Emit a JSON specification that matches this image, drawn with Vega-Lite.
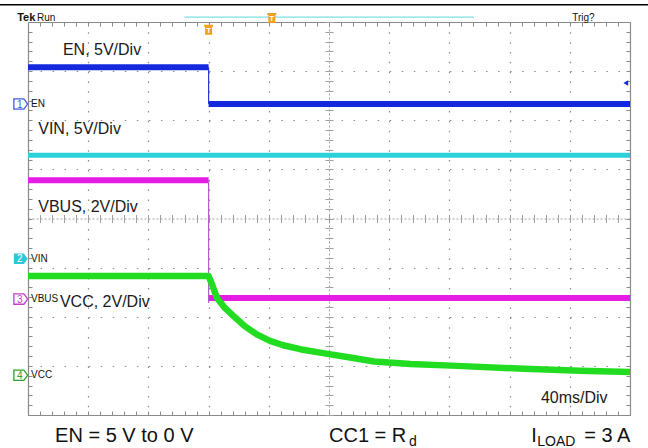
{
  "$schema": "https://vega.github.io/schema/vega-lite/v6.json",
  "width": 602,
  "height": 393,
  "autosize": {"type": "none"},
  "padding": {"left": 28, "top": 22, "right": 18, "bottom": 33},
  "background": "white",
  "config": {"view": {"stroke": null}, "font": "Liberation Sans", "axis": {"zindex": 0, "title": null, "labels": false}},
  "resolve": {"axis": {"x": "independent", "y": "independent"}, "scale": {"color": "independent"}},
  "datasets": {
    "traces": [
      {"s": "EN", "seg": "EN-a", "x": 0, "y": 7.08}, {"s": "EN", "seg": "EN-a", "x": 3, "y": 7.08},
      {"s": "EN", "seg": "EN-b", "x": 3, "y": 6.33}, {"s": "EN", "seg": "EN-b", "x": 10, "y": 6.33},
      {"s": "VIN", "seg": "VIN-a", "x": 0, "y": 5.29}, {"s": "VIN", "seg": "VIN-a", "x": 10, "y": 5.29},
      {"s": "VBUS", "seg": "VBUS-a", "x": 0, "y": 4.78}, {"s": "VBUS", "seg": "VBUS-a", "x": 3, "y": 4.78},
      {"s": "VBUS", "seg": "VBUS-b", "x": 3, "y": 2.38}, {"s": "VBUS", "seg": "VBUS-b", "x": 10, "y": 2.38},
      {"s": "VCC", "seg": "VCC-a", "x": 0, "y": 2.83}, {"s": "VCC", "seg": "VCC-a", "x": 3, "y": 2.83},
      {"s": "VCC", "seg": "VCC-a", "x": 3.06, "y": 2.65}, {"s": "VCC", "seg": "VCC-a", "x": 3.14, "y": 2.38},
      {"s": "VCC", "seg": "VCC-a", "x": 3.27, "y": 2.18}, {"s": "VCC", "seg": "VCC-a", "x": 3.41, "y": 2.02},
      {"s": "VCC", "seg": "VCC-a", "x": 3.6, "y": 1.81}, {"s": "VCC", "seg": "VCC-a", "x": 3.8, "y": 1.64},
      {"s": "VCC", "seg": "VCC-a", "x": 4.02, "y": 1.51}, {"s": "VCC", "seg": "VCC-a", "x": 4.24, "y": 1.42},
      {"s": "VCC", "seg": "VCC-a", "x": 4.52, "y": 1.34}, {"s": "VCC", "seg": "VCC-a", "x": 4.9, "y": 1.26},
      {"s": "VCC", "seg": "VCC-a", "x": 5.35, "y": 1.17}, {"s": "VCC", "seg": "VCC-a", "x": 5.75, "y": 1.09},
      {"s": "VCC", "seg": "VCC-a", "x": 6.35, "y": 1.04}, {"s": "VCC", "seg": "VCC-a", "x": 7.13, "y": 1.0},
      {"s": "VCC", "seg": "VCC-a", "x": 8.24, "y": 0.94}, {"s": "VCC", "seg": "VCC-a", "x": 9.17, "y": 0.9},
      {"s": "VCC", "seg": "VCC-a", "x": 10, "y": 0.875}
    ],
    "edges": [
      {"s": "EN", "x": 3, "y": 7.08, "y2": 6.33},
      {"s": "VBUS", "x": 3, "y": 4.78, "y2": 2.28}
    ],
    "chans": [
      {"s": "EN", "n": "1", "label": "EN", "x": -0.12, "lx": 0.05, "y": 6.33},
      {"s": "VIN", "n": "2", "label": "VIN", "x": -0.12, "lx": 0.05, "y": 3.18},
      {"s": "VBUS", "n": "3", "label": "VBUS", "x": -0.12, "lx": 0.05, "y": 2.36},
      {"s": "VCC", "n": "4", "label": "VCC", "x": -0.12, "lx": 0.05, "y": 0.81}
    ]
  },
  "layer": [
    {
      "data": {"name": "traces"},
      "transform": [{"filter": "datum.s == 'EN'"}],
      "mark": {"type": "line", "strokeWidth": 6, "color": "#1428dc", "strokeCap": "butt"},
      "encoding": {
        "x": {"field": "x", "type": "quantitative", "scale": {"domain": [0, 10], "nice": false, "zero": false},
              "axis": {"orient": "bottom", "values": [1, 2, 3, 4, 6, 7, 8, 9], "grid": true, "gridDash": [1.5, 8.33], "gridColor": "#8a8a8a", "gridWidth": 1.2, "ticks": false, "domain": false}},
        "y": {"field": "y", "type": "quantitative", "scale": {"domain": [0, 8], "nice": false, "zero": false},
              "axis": {"orient": "left", "values": [1, 2, 3, 5, 6, 7], "grid": true, "gridDash": [1.5, 10.54], "gridColor": "#8a8a8a", "gridWidth": 1.2, "ticks": false, "domain": false}},
        "detail": {"field": "seg"}
      }
    },
    {
      "data": {"name": "traces"},
      "transform": [{"filter": "datum.s == 'VIN'"}],
      "mark": {"type": "line", "strokeWidth": 5, "color": "#2cd0d8", "strokeCap": "butt"},
      "encoding": {
        "x": {"field": "x", "type": "quantitative", "scale": {"domain": [0, 10], "nice": false, "zero": false},
              "axis": {"orient": "bottom", "values": [0,0.2,0.4,0.6,0.8,1,1.2,1.4,1.6,1.8,2,2.2,2.4,2.6,2.8,3,3.2,3.4,3.6,3.8,4,4.2,4.4,4.6,4.8,5,5.2,5.4,5.6,5.8,6,6.2,6.4,6.6,6.8,7,7.2,7.4,7.6,7.8,8,8.2,8.4,8.6,8.8,9,9.2,9.4,9.6,9.8,10], "grid": false, "tickSize": -4, "tickColor": "#8a8a8a", "domain": true, "domainColor": "#8a8a8a", "domainWidth": 1.2}},
        "y": {"field": "y", "type": "quantitative", "scale": {"domain": [0, 8], "nice": false, "zero": false},
              "axis": {"orient": "left", "values": [0,0.2,0.4,0.6,0.8,1,1.2,1.4,1.6,1.8,2,2.2,2.4,2.6,2.8,3,3.2,3.4,3.6,3.8,4,4.2,4.4,4.6,4.8,5,5.2,5.4,5.6,5.8,6,6.2,6.4,6.6,6.8,7,7.2,7.4,7.6,7.8,8], "grid": false, "tickSize": -4, "tickColor": "#8a8a8a", "domain": true, "domainColor": "#8a8a8a", "domainWidth": 1.2}},
        "detail": {"field": "seg"}
      }
    },
    {
      "data": {"name": "traces"},
      "transform": [{"filter": "datum.s == 'VBUS'"}],
      "mark": {"type": "line", "strokeWidth": 6, "color": "#e41ce4", "strokeCap": "butt"},
      "encoding": {
        "x": {"field": "x", "type": "quantitative", "scale": {"domain": [0, 10], "nice": false, "zero": false},
              "axis": {"orient": "top", "values": [0,0.2,0.4,0.6,0.8,1,1.2,1.4,1.6,1.8,2,2.2,2.4,2.6,2.8,3,3.2,3.4,3.6,3.8,4,4.2,4.4,4.6,4.8,5,5.2,5.4,5.6,5.8,6,6.2,6.4,6.6,6.8,7,7.2,7.4,7.6,7.8,8,8.2,8.4,8.6,8.8,9,9.2,9.4,9.6,9.8,10], "grid": false, "tickSize": -4, "tickColor": "#8a8a8a", "domain": true, "domainColor": "#8a8a8a", "domainWidth": 1.2}},
        "y": {"field": "y", "type": "quantitative", "scale": {"domain": [0, 8], "nice": false, "zero": false},
              "axis": {"orient": "right", "values": [0,0.2,0.4,0.6,0.8,1,1.2,1.4,1.6,1.8,2,2.2,2.4,2.6,2.8,3,3.2,3.4,3.6,3.8,4,4.2,4.4,4.6,4.8,5,5.2,5.4,5.6,5.8,6,6.2,6.4,6.6,6.8,7,7.2,7.4,7.6,7.8,8], "grid": false, "tickSize": -4, "tickColor": "#8a8a8a", "domain": true, "domainColor": "#8a8a8a", "domainWidth": 1.2}},
        "detail": {"field": "seg"}
      }
    },
    {
      "data": {"name": "edges"},
      "mark": {"type": "rule", "strokeWidth": 1.2},
      "encoding": {
        "x": {"field": "x", "type": "quantitative", "scale": {"domain": [0, 10], "nice": false, "zero": false},
              "axis": {"orient": "bottom", "offset": -196.5, "values": [0,0.2,0.4,0.6,0.8,1,1.2,1.4,1.6,1.8,2,2.2,2.4,2.6,2.8,3,3.2,3.4,3.6,3.8,4,4.2,4.4,4.6,4.8,5,5.2,5.4,5.6,5.8,6,6.2,6.4,6.6,6.8,7,7.2,7.4,7.6,7.8,8,8.2,8.4,8.6,8.8,9,9.2,9.4,9.6,9.8,10], "grid": false, "tickSize": 4, "tickColor": "#a0a0a0", "domain": true, "domainColor": "#a0a0a0", "domainDash": [2, 2], "domainWidth": 1}},
        "y": {"field": "y", "type": "quantitative", "scale": {"domain": [0, 8], "nice": false, "zero": false},
              "axis": {"orient": "left", "offset": -301, "values": [0,0.2,0.4,0.6,0.8,1,1.2,1.4,1.6,1.8,2,2.2,2.4,2.6,2.8,3,3.2,3.4,3.6,3.8,4,4.2,4.4,4.6,4.8,5,5.2,5.4,5.6,5.8,6,6.2,6.4,6.6,6.8,7,7.2,7.4,7.6,7.8,8], "grid": false, "tickSize": 4, "tickColor": "#a0a0a0", "domain": true, "domainColor": "#a0a0a0", "domainDash": [2, 2], "domainWidth": 1}},
        "y2": {"field": "y2"},
        "color": {"field": "s", "type": "nominal", "scale": {"domain": ["EN", "VBUS"], "range": ["#2838d0", "#b060c8"]}, "legend": null}
      }
    },
    {
      "data": {"name": "traces"},
      "transform": [{"filter": "datum.s == 'VCC'"}],
      "mark": {"type": "line", "strokeWidth": 6.5, "color": "#22dc22", "strokeCap": "butt", "strokeJoin": "round"},
      "encoding": {
        "x": {"field": "x", "type": "quantitative", "scale": {"domain": [0, 10], "nice": false, "zero": false},
              "axis": {"orient": "top", "offset": -196.5, "values": [0,0.2,0.4,0.6,0.8,1,1.2,1.4,1.6,1.8,2,2.2,2.4,2.6,2.8,3,3.2,3.4,3.6,3.8,4,4.2,4.4,4.6,4.8,5,5.2,5.4,5.6,5.8,6,6.2,6.4,6.6,6.8,7,7.2,7.4,7.6,7.8,8,8.2,8.4,8.6,8.8,9,9.2,9.4,9.6,9.8,10], "grid": false, "tickSize": 4, "tickColor": "#a0a0a0", "domain": false}},
        "y": {"field": "y", "type": "quantitative", "scale": {"domain": [0, 8], "nice": false, "zero": false},
              "axis": {"orient": "right", "offset": -301, "values": [0,0.2,0.4,0.6,0.8,1,1.2,1.4,1.6,1.8,2,2.2,2.4,2.6,2.8,3,3.2,3.4,3.6,3.8,4,4.2,4.4,4.6,4.8,5,5.2,5.4,5.6,5.8,6,6.2,6.4,6.6,6.8,7,7.2,7.4,7.6,7.8,8], "grid": false, "tickSize": 4, "tickColor": "#a0a0a0", "domain": false}},
        "detail": {"field": "seg"}
      }
    },
    {
      "data": {"values": [
        {"t": "EN, 5V/Div", "x": 0.58, "y": 7.33},
        {"t": "VIN, 5V/Div", "x": 0.17, "y": 5.72},
        {"t": "VBUS, 2V/Div", "x": 0.17, "y": 4.14},
        {"t": "VCC, 2V/Div", "x": 0.53, "y": 2.2},
        {"t": "40ms/Div", "x": 8.52, "y": 0.244}
      ]},
      "mark": {"type": "text", "align": "left", "baseline": "alphabetic", "fontSize": 16, "color": "#1a1a1a", "font": "Liberation Sans"},
      "encoding": {
        "x": {"field": "x", "type": "quantitative", "scale": {"domain": [0, 10], "nice": false, "zero": false}, "axis": null},
        "y": {"field": "y", "type": "quantitative", "scale": {"domain": [0, 8], "nice": false, "zero": false}, "axis": null},
        "text": {"field": "t"}
      }
    },
    {
      "data": {"values": [
        {"t": "EN = 5 V to 0 V", "x": 0.45, "y": -0.55},
        {"t": "CC1 = R", "x": 5.0, "y": -0.55},
        {"t": "I", "x": 8.36, "y": -0.55},
        {"t": "= 3 A", "x": 9.24, "y": -0.55}
      ]},
      "mark": {"type": "text", "align": "left", "baseline": "alphabetic", "fontSize": 20, "color": "#111111", "font": "Liberation Sans"},
      "encoding": {
        "x": {"field": "x", "type": "quantitative", "scale": {"domain": [0, 10], "nice": false, "zero": false}, "axis": null},
        "y": {"field": "y", "type": "quantitative", "scale": {"domain": [0, 8], "nice": false, "zero": false}, "axis": null},
        "text": {"field": "t"}
      }
    },
    {
      "data": {"values": [
        {"t": "d", "x": 6.33, "y": -0.64},
        {"t": "LOAD", "x": 8.46, "y": -0.64}
      ]},
      "mark": {"type": "text", "align": "left", "baseline": "alphabetic", "fontSize": 14, "color": "#111111", "font": "Liberation Sans"},
      "encoding": {
        "x": {"field": "x", "type": "quantitative", "scale": {"domain": [0, 10], "nice": false, "zero": false}, "axis": null},
        "y": {"field": "y", "type": "quantitative", "scale": {"domain": [0, 8], "nice": false, "zero": false}, "axis": null},
        "text": {"field": "t"}
      }
    },
    {
      "data": {"values": [
        {"t": "Run", "x": 0.15, "y": 8.02},
        {"t": "Trig?", "x": 9.04, "y": 8.02}
      ]},
      "mark": {"type": "text", "align": "left", "baseline": "alphabetic", "fontSize": 10, "color": "#111111", "font": "Liberation Sans"},
      "encoding": {
        "x": {"field": "x", "type": "quantitative", "scale": {"domain": [0, 10], "nice": false, "zero": false}, "axis": null},
        "y": {"field": "y", "type": "quantitative", "scale": {"domain": [0, 8], "nice": false, "zero": false}, "axis": null},
        "text": {"field": "t"}
      }
    },
    {
      "data": {"values": [{"t": "Tek", "x": -0.18, "y": 8.02}]},
      "mark": {"type": "text", "align": "left", "baseline": "alphabetic", "fontSize": 11, "fontWeight": "bold", "color": "#111111", "font": "Liberation Sans", "letterSpacing": -0.5},
      "encoding": {
        "x": {"field": "x", "type": "quantitative", "scale": {"domain": [0, 10], "nice": false, "zero": false}, "axis": null},
        "y": {"field": "y", "type": "quantitative", "scale": {"domain": [0, 8], "nice": false, "zero": false}, "axis": null},
        "text": {"field": "t"}
      }
    },
    {
      "data": {"values": [{"what": "header", "x": -0.47, "x2": 10.3, "y": 8.35}]},
      "mark": {"type": "rule", "strokeWidth": 1.5, "color": "#000000"},
      "encoding": {
        "x": {"field": "x", "type": "quantitative", "scale": {"domain": [0, 10], "nice": false, "zero": false}, "axis": null},
        "x2": {"field": "x2"},
        "y": {"field": "y", "type": "quantitative", "scale": {"domain": [0, 8], "nice": false, "zero": false}, "axis": null}
      }
    },
    {
      "data": {"values": [{"what": "record", "x": 2.6, "x2": 7.41, "y": 8.1}]},
      "mark": {"type": "rule", "strokeWidth": 1, "color": "#5cd6de"},
      "encoding": {
        "x": {"field": "x", "type": "quantitative", "scale": {"domain": [0, 10], "nice": false, "zero": false}, "axis": null},
        "x2": {"field": "x2"},
        "y": {"field": "y", "type": "quantitative", "scale": {"domain": [0, 8], "nice": false, "zero": false}, "axis": null}
      }
    },
    {
      "data": {"values": [{"what": "trigger", "x": 3.0, "y": 7.84}, {"what": "position", "x": 4.05, "y": 8.08}]},
      "mark": {"type": "point", "shape": "M-0.9,-1 L0.9,-1 L0.9,-0.6 L0.7,-0.6 L0.7,1 L-0.7,1 L-0.7,-0.6 L-0.9,-0.6 Z", "size": 100, "filled": true, "color": "#f0a020", "opacity": 1},
      "encoding": {
        "x": {"field": "x", "type": "quantitative", "scale": {"domain": [0, 10], "nice": false, "zero": false}, "axis": null},
        "y": {"field": "y", "type": "quantitative", "scale": {"domain": [0, 8], "nice": false, "zero": false}, "axis": null}
      }
    },
    {
      "data": {"values": [{"what": "trigger", "x": 3.0, "y": 7.82}, {"what": "position", "x": 4.05, "y": 8.06}]},
      "mark": {"type": "text", "text": "T", "fontSize": 8, "fontWeight": "bold", "color": "#ffffff", "align": "center", "baseline": "middle"},
      "encoding": {
        "x": {"field": "x", "type": "quantitative", "scale": {"domain": [0, 10], "nice": false, "zero": false}, "axis": null},
        "y": {"field": "y", "type": "quantitative", "scale": {"domain": [0, 8], "nice": false, "zero": false}, "axis": null}
      }
    },
    {
      "data": {"values": [{"what": "EN level", "x": 9.93, "y": 6.76}]},
      "mark": {"type": "point", "shape": "triangle-left", "size": 30, "filled": true, "color": "#1428dc", "opacity": 1},
      "encoding": {
        "x": {"field": "x", "type": "quantitative", "scale": {"domain": [0, 10], "nice": false, "zero": false}, "axis": null},
        "y": {"field": "y", "type": "quantitative", "scale": {"domain": [0, 8], "nice": false, "zero": false}, "axis": null}
      }
    },
    {
      "data": {"name": "chans"},
      "transform": [{"filter": "datum.n != '2'"}],
      "mark": {"type": "point", "shape": "M-1,-0.75 L0.45,-0.75 L1,0 L0.45,0.75 L-1,0.75 Z", "size": 190, "filled": false, "strokeWidth": 1.3, "opacity": 1},
      "encoding": {
        "x": {"field": "x", "type": "quantitative", "scale": {"domain": [0, 10], "nice": false, "zero": false}, "axis": null},
        "y": {"field": "y", "type": "quantitative", "scale": {"domain": [0, 8], "nice": false, "zero": false}, "axis": null},
        "color": {"field": "s", "type": "nominal", "scale": {"domain": ["EN", "VBUS", "VCC"], "range": ["#4a5ae0", "#c040c8", "#30a030"]}, "legend": null}
      }
    },
    {
      "data": {"name": "chans"},
      "transform": [{"filter": "datum.n == '2'"}],
      "mark": {"type": "point", "shape": "M-1,-0.75 L0.45,-0.75 L1,0 L0.45,0.75 L-1,0.75 Z", "size": 190, "filled": true, "color": "#2cc8d8", "opacity": 1},
      "encoding": {
        "x": {"field": "x", "type": "quantitative", "scale": {"domain": [0, 10], "nice": false, "zero": false}, "axis": null},
        "y": {"field": "y", "type": "quantitative", "scale": {"domain": [0, 8], "nice": false, "zero": false}, "axis": null}
      }
    },
    {
      "data": {"name": "chans"},
      "mark": {"type": "text", "fontSize": 10, "align": "center", "baseline": "middle", "dx": -1, "dy": 0.5},
      "encoding": {
        "x": {"field": "x", "type": "quantitative", "scale": {"domain": [0, 10], "nice": false, "zero": false}, "axis": null},
        "y": {"field": "y", "type": "quantitative", "scale": {"domain": [0, 8], "nice": false, "zero": false}, "axis": null},
        "text": {"field": "n"},
        "color": {"field": "s", "type": "nominal", "scale": {"domain": ["EN", "VIN", "VBUS", "VCC"], "range": ["#4a5ae0", "#ffffff", "#c040c8", "#30a030"]}, "legend": null}
      }
    },
    {
      "data": {"name": "chans"},
      "mark": {"type": "text", "fontSize": 10, "align": "left", "baseline": "middle", "color": "#111111", "font": "Liberation Sans"},
      "encoding": {
        "x": {"field": "lx", "type": "quantitative", "scale": {"domain": [0, 10], "nice": false, "zero": false}, "axis": null},
        "y": {"field": "y", "type": "quantitative", "scale": {"domain": [0, 8], "nice": false, "zero": false}, "axis": null},
        "text": {"field": "label"}
      }
    }
  ]
}
